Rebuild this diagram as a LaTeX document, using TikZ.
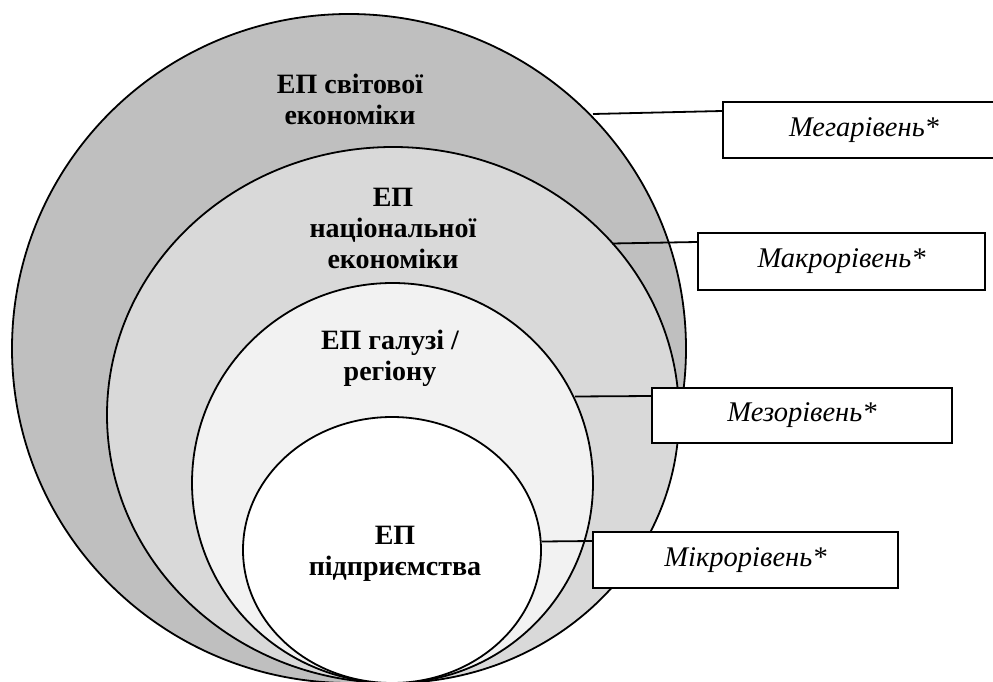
\documentclass[tikz,border=0pt]{standalone}
\usepackage{fontspec}
\setmainfont{Liberation Serif}
\usetikzlibrary{shapes.geometric}
\definecolor{gA}{RGB}{191,191,191}
\definecolor{gB}{RGB}{217,217,217}
\definecolor{gC}{RGB}{242,242,242}
\tikzset{
  ring/.style={ellipse, draw=black, line width=1.8pt, inner sep=0pt},
  lvl/.style={font=\fontsize{28}{31}\selectfont\bfseries, align=center, inner sep=0pt},
  tag/.style={draw=black, fill=white, line width=1.8pt, inner sep=0pt,
    font=\fontsize{28.5}{32}\selectfont\itshape},
  link/.style={draw=black, line width=1.8pt}
}
\begin{document}
\begin{tikzpicture}[x=1pt,y=-1pt]
\useasboundingbox (0,0) rectangle (993,682);
\clip (0,0) rectangle (993,682);
% rings
\node[ring, fill=gA, minimum width=674pt, minimum height=669pt] (world) at (349,348.5) {};
\node[ring, fill=gB, minimum width=572pt, minimum height=536pt] (nation) at (393,415) {};
\node[ring, fill=gC, minimum width=401pt, minimum height=400pt] (branch) at (392.5,483) {};
\node[ring, fill=white, minimum width=298pt, minimum height=266pt] (firm) at (392,550) {};
% level texts
\node[lvl] (tworld) at (350,99) {ЕП світової\\економіки};
\node[lvl] (tnation) at (393,228) {ЕП\\національної\\економіки};
\node[lvl] (tbranch) at (390,358) {ЕП галузі /\\регіону};
\node[lvl] (tfirm) at (395,554) {ЕП\\підприємства};
% tag boxes
\node[tag, minimum width=282pt, minimum height=56pt] (mega) at (864,130) {Мегарівень*};
\node[tag, minimum width=287pt, minimum height=57pt] (macro) at (841.5,261.5) {Макрорівень*};
\node[tag, minimum width=300pt, minimum height=55pt] (meso) at (802,415.5) {Мезорівень*};
\node[tag, minimum width=305pt, minimum height=56pt] (micro) at (745.5,560) {Мікрорівень*};
% connector ends on the rings
\coordinate (pmega) at (593,114);
\coordinate (pmacro) at (612,243.5);
\coordinate (pmeso) at (575,396.5);
\coordinate (pmicro) at (542,541.5);
\draw[link] (pmega) -- (mega.west |- 0,111);
\draw[link] (pmacro) -- (macro.west |- 0,242);
\draw[link] (pmeso) -- (meso.west |- 0,396);
\draw[link] (pmicro) -- (micro.west |- 0,541);
\end{tikzpicture}
\end{document}
